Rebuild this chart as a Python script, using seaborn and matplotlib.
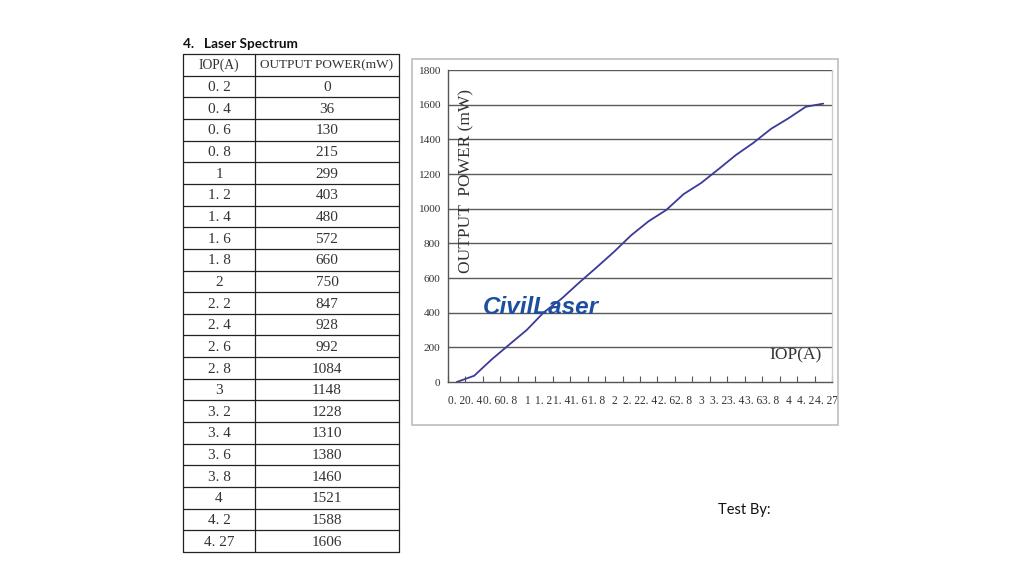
import matplotlib
matplotlib.use("Agg")
import matplotlib.pyplot as plt
import matplotlib.transforms as mtrans
import seaborn as sns
import pandas as pd
from matplotlib.patches import Rectangle

# ---- data ----
iop_labels = ["0. 2", "0. 4", "0. 6", "0. 8", "1", "1. 2", "1. 4", "1. 6", "1. 8", "2",
              "2. 2", "2. 4", "2. 6", "2. 8", "3", "3. 2", "3. 4", "3. 6", "3. 8", "4",
              "4. 2", "4. 27"]
output_power = [0, 36, 130, 215, 299, 403, 480, 572, 660, 750,
                847, 928, 992, 1084, 1148, 1228, 1310, 1380, 1460, 1521,
                1588, 1606]
table_header = ["IOP(A)", "OUTPUT POWER(mW)"]
y_ticks = [0, 200, 400, 600, 800, 1000, 1200, 1400, 1600, 1800]

sns.set_theme(style="white")
plt.rcParams["font.family"] = ["Liberation Serif", "DejaVu Serif"]

W, H = 1024, 576
fig = plt.figure(figsize=(W / 100, H / 100), dpi=100)
fig.patch.set_facecolor("white")

def fx(px):
    return px / W

def fy(py):
    return 1 - py / H

# ---- title & footer ----
fig.text(fx(183), fy(44), "4.   Laser Spectrum", family=["Lato", "DejaVu Sans"],
         fontweight="bold", fontsize=9.8, va="center", ha="left", color="#111111")
fig.text(fx(718), fy(510), "Test By:", family=["Lato", "DejaVu Sans"],
         fontsize=10.5, va="center", ha="left", color="#111111")

# ---- table ----
n_rows = len(iop_labels) + 1
tx0, tx1, tcol = 183, 399, 255
ty0, ty1 = 54, 552
tab = fig.add_axes([fx(tx0), fy(ty1), fx(tx1 - tx0), (ty1 - ty0) / H])
tab.set_xlim(tx0, tx1)
tab.set_ylim(n_rows, 0)
tab.axis("off")
for r in range(n_rows + 1):
    tab.plot([tx0, tx1], [r, r], color="#222222", lw=0.9, clip_on=False)
for xv in (tx0, tcol, tx1):
    tab.plot([xv, xv], [0, n_rows], color="#222222", lw=0.9, clip_on=False)
tab.text((tx0 + tcol) / 2, 0.5, table_header[0], ha="center", va="center",
         fontsize=9.8, color="#333333")
tab.text((tcol + tx1) / 2, 0.5, table_header[1], ha="center", va="center",
         fontsize=9.5, color="#333333")
for i, (lab, val) in enumerate(zip(iop_labels, output_power)):
    tab.text((tx0 + tcol) / 2, i + 1.55, lab, ha="center", va="center",
             fontsize=11, color="#333333")
    tab.text((tcol + tx1) / 2, i + 1.55, str(val), ha="center", va="center",
             fontsize=11, color="#333333")

# ---- chart frame ----
fig.patches.append(Rectangle((fx(412), fy(425)), fx(838 - 412), (425 - 59) / H,
                             transform=fig.transFigure, fill=False,
                             edgecolor="#bdbdbd", lw=1.2, zorder=0))

# ---- line chart ----
ax = fig.add_axes([fx(448), fy(382), fx(832 - 448), (382 - 70) / H])
df = pd.DataFrame({"IOP": iop_labels, "Power": output_power})
sns.pointplot(data=df, x="IOP", y="Power", ax=ax, color="#3a3a98",
              marker="", linestyle="-", linewidth=1.3, errorbar=None)
ax.set_xlim(-0.5, len(iop_labels) - 0.5)
ax.set_ylim(0, 1800)
ax.set_yticks(y_ticks)
ax.set_yticklabels([str(v) for v in y_ticks], fontsize=8.2, color="#333333")
ax.set_xticks(range(len(iop_labels)))
ax.set_xticklabels(iop_labels, fontsize=8.3, color="#333333")
ax.set_xticks([i - 0.5 for i in range(len(iop_labels) + 1)], minor=True)
ax.tick_params(axis="x", which="major", length=0, pad=9)
ax.tick_params(axis="x", which="minor", length=4, direction="in", color="#555555", width=0.8, bottom=True)
ax.tick_params(axis="y", length=0, pad=5.5)
# nudge the last tick label slightly right so it does not collide with its neighbour
last = ax.get_xticklabels()[-1]
last.set_transform(last.get_transform() + mtrans.ScaledTranslation(3.5 / 100, 0, fig.dpi_scale_trans))
ax.set_xlabel("")
ax.set_ylabel("")
for yv in y_ticks[1:]:
    ax.axhline(yv, color="#5a5a5a", lw=1.0, zorder=0)
for side in ("left", "bottom"):
    ax.spines[side].set_color("#555555")
    ax.spines[side].set_linewidth(1.0)
ax.spines["top"].set_visible(False)
ax.spines["right"].set_color("#cccccc")
ax.spines["right"].set_linewidth(1.0)

ax.text(0.047, 0.645, "OUTPUT  POWER (mW)", transform=ax.transAxes, rotation=90,
        ha="center", va="center", fontsize=12.5, color="#333333")
ax.text(0.905, 0.085, "IOP(A)", transform=ax.transAxes, ha="center", va="center",
        fontsize=12.5, color="#333333")

# ---- logo ----
fig.text(fx(483), fy(307), "CivilLaser", family=["Liberation Sans", "DejaVu Sans"],
         fontweight="bold", style="italic", fontsize=17.5, color="#1d4f9e",
         va="center", ha="left", zorder=10)

fig.savefig("out.png", dpi=100, facecolor="white")
